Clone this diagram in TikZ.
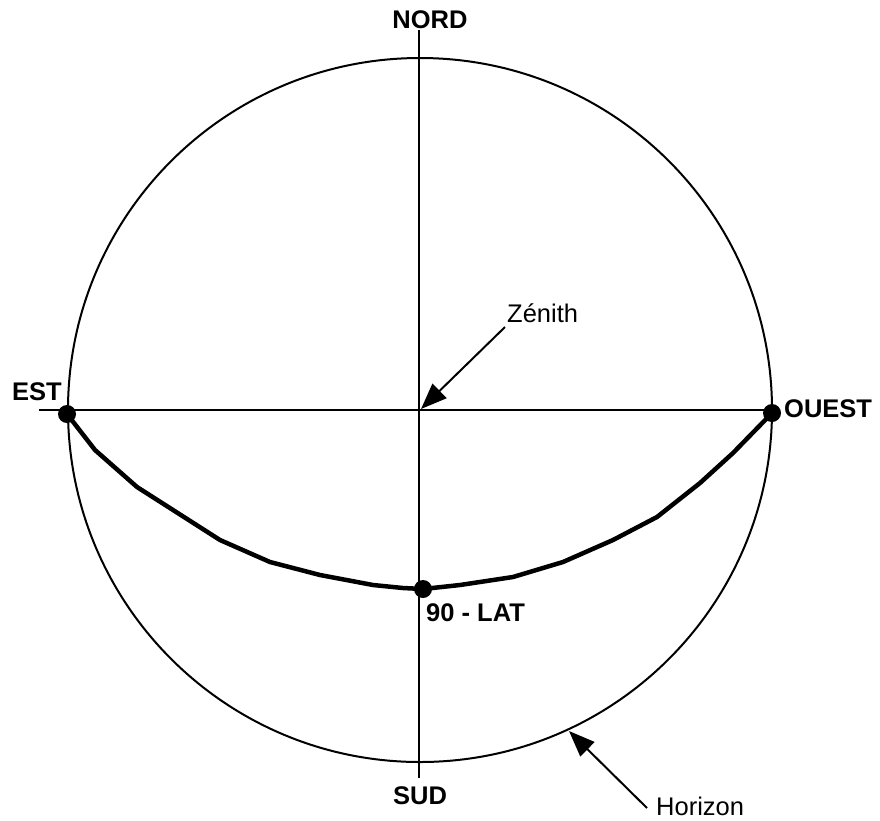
\documentclass[tikz,border=0pt]{standalone}
\usepackage{fontspec}
\setmainfont{Liberation Sans}
\usetikzlibrary{arrows.meta}
\begin{document}
\begin{tikzpicture}[x=1pt,y=-1pt,
  thinline/.style={line width=2pt},
  thickline/.style={line width=4.5pt, line join=round, line cap=round},
  dotnode/.style={circle, fill=black, inner sep=0pt, minimum size=18pt},
  lbl/.style={inner sep=0pt, font=\fontsize{25.5}{28}\selectfont\bfseries},
  lblr/.style={inner sep=0pt, font=\fontsize{25.5}{28}\selectfont},
  pointer/.style={line width=2pt, -{Triangle[length=26pt,width=20pt]}}]
\useasboundingbox (0,0) rectangle (880,820);
\fill[white] (0,0) rectangle (880,820);
% frame
\coordinate (O) at (420,410);
\coordinate (top) at (419,30);
\coordinate (bot) at (419,778);
\coordinate (left) at (39,410);
\coordinate (right) at (778,410);
\draw[thinline] (O) circle[radius=352pt];
\draw[thinline] (top) -- (bot);
\draw[thinline] (left) -- (right);
% arc of the sun path
\node[dotnode] (E) at (67,414) {};
\node[dotnode] (W) at (772,413) {};
\node[dotnode] (S) at (423,589) {};
\draw[thickline] (E.center) -- (95,450) -- (137,487) -- (220,540) -- (270,562) -- (320,575)
  -- (373,585) -- (403,588) -- (S.center) -- (460,585) -- (513,577) -- (563,562)
  -- (613,540) -- (657,517) -- (700,483) -- (733,453) -- (W.center);
% labels
\node[lbl, anchor=base] (nord) at (430,28) {NORD};
\node[lbl, anchor=base] (sud) at (420,804) {SUD};
\node[lbl, anchor=base west] (est) at (12,400) {EST};
\node[lbl, anchor=base west] (ouest) at (784,417) {OUEST};
\node[lbl, anchor=base west] (lat) at (426,621) {90 - LAT};
\node[lblr, anchor=base west] (zen) at (507,322) {Zénith};
\node[lblr, anchor=base west] (hor) at (656,815) {Horizon};
% pointers
\coordinate (zentail) at (505,327);
\coordinate (zenhead) at (421,409);
\coordinate (hortail) at (647,808);
\coordinate (horhead) at (569,731);
\draw[pointer] (zentail) -- (zenhead);
\draw[pointer] (hortail) -- (horhead);
\end{tikzpicture}
\end{document}
